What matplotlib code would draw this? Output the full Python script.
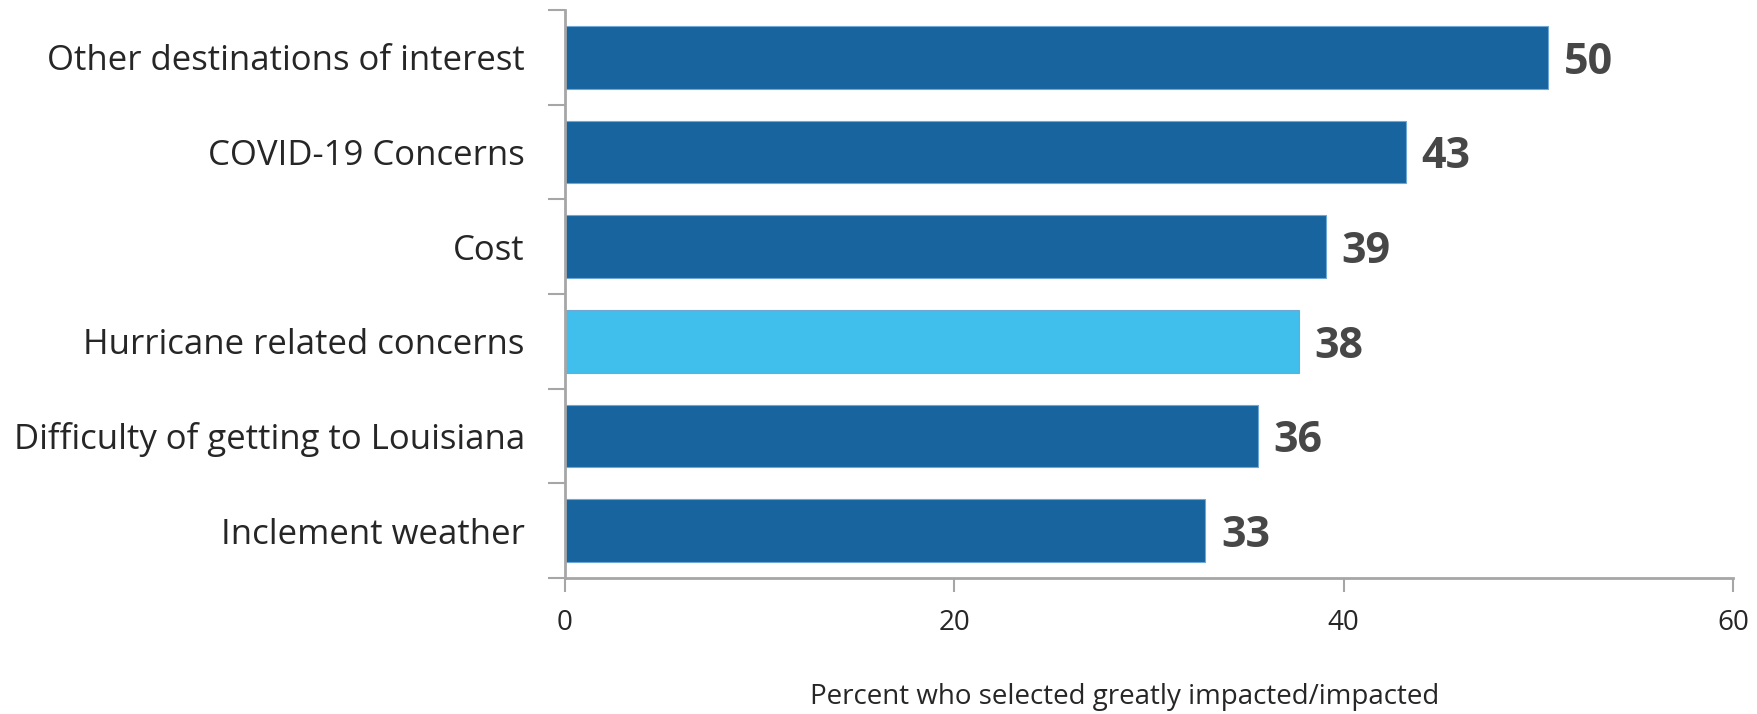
import matplotlib
matplotlib.use("Agg")
import matplotlib.pyplot as plt

categories = [
    "Other destinations of interest",
    "COVID-19 Concerns",
    "Cost",
    "Hurricane related concerns",
    "Difficulty of getting to Louisiana",
    "Inclement weather",
]
values = [50.5, 43.2, 39.1, 37.7, 35.6, 32.9]
highlight = "Hurricane related concerns"
x_ticks = [0, 20, 40, 60]
x_label = "Percent who selected greatly impacted/impacted"

dark_blue = "#17649E"
light_blue = "#40BFEC"
axis_gray = "#A6A6A6"
text_color = "#262626"
value_color = "#474747"

plt.rcParams["font.family"] = ["Open Sans", "DejaVu Sans"]

fig = plt.figure(figsize=(17.57, 7.14), dpi=100)
ax = fig.add_axes([0.3216, 0.1905, 0.6647, 0.7955])

n = len(categories)
ypos = list(range(n))
colors = [light_blue if c == highlight else dark_blue for c in categories]
ax.barh(ypos, values, height=0.66, color=colors, edgecolor="#6FA8D6", linewidth=0.8, zorder=2)

for y, v in zip(ypos, values):
    ax.text(v + 0.8, y + 0.05, f"{v:.0f}", va="center", ha="left", fontsize=31,
            fontweight="bold", color=value_color)

ax.set_xlim(0, 60)
ax.set_ylim(n - 0.5, -0.5)
ax.set_xticks(x_ticks)
ax.set_xticklabels([str(t) for t in x_ticks], fontsize=20, color=text_color)

# Category names sit between the boundary ticks
ax.set_yticks([i - 0.5 for i in range(n + 1)])
ax.set_yticklabels([])
ax.set_yticks(ypos, minor=True)
ax.set_yticklabels(categories, minor=True, fontsize=25, color=text_color)
ax.tick_params(axis="y", which="minor", length=0, pad=29)
ax.tick_params(axis="y", which="major", length=12, width=1.5, color=axis_gray)
ax.tick_params(axis="x", length=10, width=1.5, color=axis_gray, pad=12)

for side in ("top", "right"):
    ax.spines[side].set_visible(False)
for side in ("left", "bottom"):
    ax.spines[side].set_color(axis_gray)
    ax.spines[side].set_linewidth(2)

fig.text(0.640, 0.024, x_label, ha="center", va="center", fontsize=20, color=text_color)

fig.savefig("out.png", dpi=100, facecolor="white")
